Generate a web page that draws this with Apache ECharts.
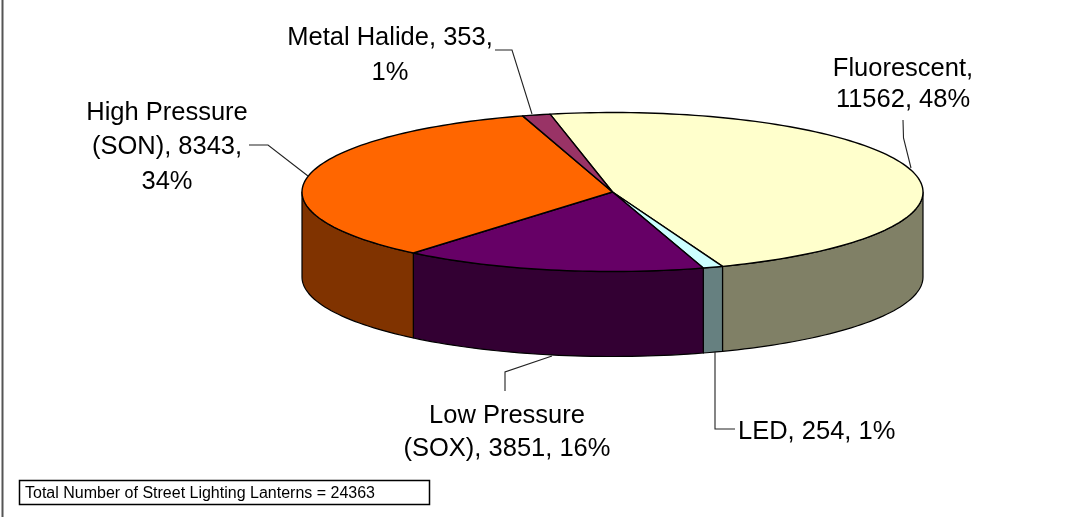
<!DOCTYPE html>
<html>
<head>
<meta charset="utf-8">
<style>html,body{margin:0;padding:0;background:#fff}#c{width:1080px;height:517px}</style>
<script src="https://cdn.jsdelivr.net/npm/echarts@6/dist/echarts.min.js"></script>
</head>
<body>
<div id="c"></div>
<script>
// Data
const categories = ['Fluorescent', 'LED', 'Low Pressure (SOX)', 'High Pressure (SON)', 'Metal Halide'];
const lanterns = [11562, 254, 3851, 8343, 353];
const percents = [48, 1, 16, 34, 1];
const totalNote = 'Total Number of Street Lighting Lanterns = 24363';
const labelLines = [
  ['Fluorescent,', '11562, 48%'],
  ['LED, 254, 1%'],
  ['Low Pressure', '(SOX), 3851, 16%'],
  ['High Pressure', '(SON), 8343,', '34%'],
  ['Metal Halide, 353,', '1%']
];
// Style
const topColors = ['#FFFFCC', '#CCFFFF', '#660066', '#FF6600', '#993366'];
const sideColors = ['#808066', '#668080', '#330033', '#803300', '#4D1A33'];
// Layout of the tilted pie
const CX = 612.5, CY = 192, RX = 310.5, RY = 79.5, DEPTH = 85, START_DEG = -11.6;
// Layout of labels and leader lines
const labelPos = [[903, 84, 'center', 31], [738, 432, 'left', 34], [507, 432, 'center', 33], [167, 147, 'center', 34.5], [390, 55, 'center', 35]];
const leaders = [
  [[903, 120], [903.5, 138], [911, 168]],
  [[715, 352], [715, 429], [735, 429]],
  [[552, 356], [505, 372], [505, 391]],
  [[249, 145], [268, 145], [308, 176]],
  [[495, 50], [512, 50], [532, 114]]
];

const total = lanterns.reduce((a, b) => a + b, 0);
const angles = [];
lanterns.reduce((acc, v, i) => { angles[i] = [acc, acc + v / total * 360]; return acc + v / total * 360; }, START_DEG);

function rimPoint(deg, dy) {
  const r = deg * Math.PI / 180;
  return [CX + RX * Math.sin(r), CY - RY * Math.cos(r) + (dy || 0)];
}
function rimArc(a, b, dy) {
  const n = Math.max(2, Math.ceil(Math.abs(b - a) / 1.5));
  const pts = [];
  for (let i = 0; i <= n; i++) pts.push(rimPoint(a + (b - a) * i / n, dy));
  return pts;
}
// Front wall spans 90..270 degrees clockwise from the top of the ellipse
function sideElement(i) {
  const a = Math.max(angles[i][0], 90), b = Math.min(angles[i][1], 270);
  if (b <= a) return null;
  const pts = rimArc(a, b, 0).concat(rimArc(b, a, DEPTH));
  return {
    type: 'polygon', z2: 1,
    shape: { points: pts },
    style: { fill: sideColors[i], stroke: '#000', lineWidth: 1.2, lineJoin: 'round' }
  };
}
function topElement(i) {
  const pts = [[CX, CY]].concat(rimArc(angles[i][0], angles[i][1], 0));
  return {
    type: 'polygon', z2: 2,
    shape: { points: pts },
    style: { fill: topColors[i], stroke: '#000', lineWidth: 1.4, lineJoin: 'round' }
  };
}
const FONT = '"Liberation Sans", Arial, sans-serif';
const graphics = [
  { type: 'line', silent: true, shape: { x1: 2.5, y1: 0, x2: 2.5, y2: 517 }, style: { stroke: '#555', lineWidth: 2 } },
  { type: 'rect', shape: { x: 19.5, y: 480.5, width: 410, height: 24 }, style: { fill: '#fff', stroke: '#000', lineWidth: 1.5 } },
  { type: 'text', x: 25, y: 494, style: { text: totalNote, font: '16px ' + FONT, fill: '#000', verticalAlign: 'middle' } }
];
leaders.forEach(p => graphics.push({ type: 'polyline', shape: { points: p }, style: { fill: null, stroke: '#222', lineWidth: 1.1 }, z: 5 }));
labelLines.forEach((lines, i) => {
  const [x, y, align, lh] = labelPos[i];
  graphics.push({
    type: 'text', x: x, y: y, z: 6,
    style: {
      text: lines.join('\n'), font: '25.5px ' + FONT, fill: '#000',
      align: align, verticalAlign: 'middle', lineHeight: lh
    }
  });
});

const chart = echarts.init(document.getElementById('c'), null, { renderer: 'canvas' });
chart.setOption({
  backgroundColor: '#fff',
  animation: false,
  graphic: graphics,
  series: [{
    type: 'custom',
    coordinateSystem: 'none',
    silent: true,
    data: categories.map((name, i) => ({ name: name, value: [lanterns[i], percents[i]] })),
    renderItem: function (params) {
      const i = params.dataIndex;
      const kids = [];
      const s = sideElement(i);
      if (s) kids.push(s);
      kids.push(topElement(i));
      return { type: 'group', children: kids };
    }
  }]
});
</script>
</body>
</html>
